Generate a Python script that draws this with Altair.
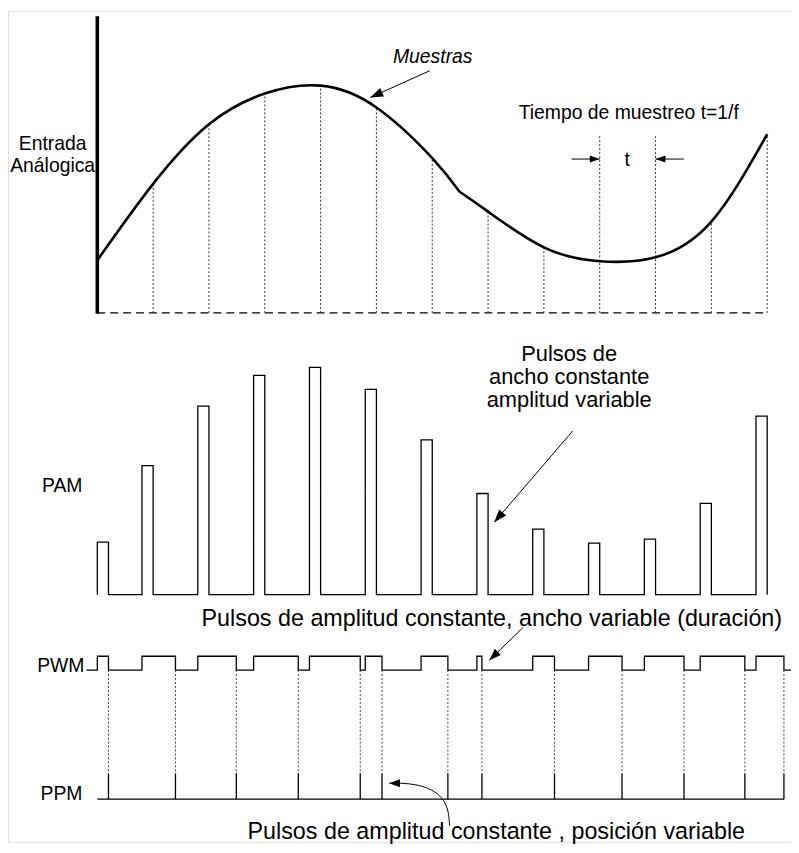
import altair as alt
import numpy as np
import pandas as pd

# ---------------- data ----------------
# sampling instants (in sample periods) and analog value at each of them
sample_t = list(range(13))
sample_v = [53, 130, 190, 221, 229, 207, 156, 102, 66, 52, 56, 92, 180]
# kink of the analog curve between samples 6 and 7
kink_t, kink_v = 6.49, 122
# pulse start instants (shared by PAM and PWM) and widths
pulse_start = [0, 0.8, 1.8, 2.8, 3.8, 4.8, 5.8, 6.8, 7.8, 8.8, 9.8, 10.8, 11.8]
pam_width = 0.2
pwm_width = [0.2, 0.6, 0.69, 0.8, 0.91, 0.3, 0.48, 0.09, 0.39, 0.6, 0.71, 0.8, 0.5]
pwm_lead, pwm_tail = -0.196, 12.4267
marker_pair = [9, 10]  # the two samples used for "t"

# ---------------- layout ----------------
W, H = 789, 837
X_DOM = [-1.6, 12.4267]
Y_DOM = [0, 837]
PX_PER_T = W / (X_DOM[1] - X_DOM[0])
ANA_BASE, AXIS_TOP, MARK_TOP = 533, 832, 713
PAM_BASE = 249
PWM_LO, PWM_HI = 173, 187
PPM_BASE, PPM_TOP = 43, 69
FONT = "Liberation Sans"
FS_SMALL, FS_MID, FS_BIG = 19.5, 22, 23.5

xs = alt.Scale(domain=X_DOM, nice=False, zero=False)
ys = alt.Scale(domain=Y_DOM, nice=False, zero=False)


def X(f):
    return alt.X(f, type="quantitative", scale=xs, axis=None)


def Y(f):
    return alt.Y(f, type="quantitative", scale=ys, axis=None)


def vrules(df, **kw):
    return alt.Chart(df).mark_rule(**kw).encode(X("t"), Y("y0"), y2="y1:Q")


def hrules(df, **kw):
    return alt.Chart(df).mark_rule(**kw).encode(X("t0"), x2="t1:Q", y=Y("y"))


def polyline(pts, **kw):
    df = pd.DataFrame(pts, columns=["t", "y"])
    df["o"] = range(len(df))
    return alt.Chart(df).mark_line(**kw).encode(X("t"), Y("y"), order="o:Q")


layers = []

# ---------- analog input ----------
seg1 = pd.DataFrame({"t": sample_t[:7] + [kink_t], "v": sample_v[:7] + [kink_v]})
seg2 = pd.DataFrame({"t": [kink_t] + sample_t[7:], "v": [kink_v] + sample_v[7:]})
layers.append(hrules(pd.DataFrame({"t0": [0], "t1": [12], "y": [ANA_BASE]}),
                     color="black", strokeWidth=1.5, strokeDash=[8, 5]))
layers.append(vrules(pd.DataFrame({"t": sample_t[1:], "y0": ANA_BASE,
                                   "y1": [ANA_BASE + v for v in sample_v[1:]]}),
                     color="#333", strokeWidth=1, strokeDash=[2, 2]))
layers.append(vrules(pd.DataFrame({"t": marker_pair,
                                   "y0": [ANA_BASE + sample_v[i] for i in marker_pair],
                                   "y1": MARK_TOP}),
                     color="#333", strokeWidth=1, strokeDash=[2, 2]))
for seg in (seg1, seg2):
    seg = seg.assign(y=ANA_BASE + seg["v"])
    layers.append(alt.Chart(seg).mark_line(interpolate="natural", color="black",
                                           strokeWidth=2.6, strokeJoin="round")
                  .encode(X("t"), Y("y")))
layers.append(vrules(pd.DataFrame({"t": [0], "y0": [ANA_BASE - 1], "y1": [AXIS_TOP]}),
                     color="black", strokeWidth=3.6))

# ---------- PAM ----------
pts = []
for s, a in zip(pulse_start, sample_v):
    e = s + pam_width
    pts += [(s, PAM_BASE), (s, PAM_BASE + a), (e, PAM_BASE + a), (e, PAM_BASE)]
layers.append(polyline(pts, color="black", strokeWidth=1.3))

# ---------- PWM ----------
ends = [s + w for s, w in zip(pulse_start, pwm_width)]
pts = [(pwm_lead, PWM_LO)]
for s, e in zip(pulse_start, ends):
    pts += [(s, PWM_LO), (s, PWM_HI), (e, PWM_HI), (e, PWM_LO)]
pts.append((pwm_tail, PWM_LO))
layers.append(polyline(pts, color="black", strokeWidth=1.3))

# ---------- PPM ----------
layers.append(vrules(pd.DataFrame({"t": ends, "y0": PWM_LO, "y1": PPM_TOP}),
                     color="#444", strokeWidth=1, strokeDash=[2, 2]))
layers.append(hrules(pd.DataFrame({"t0": [0], "t1": [ends[-1]], "y": [PPM_BASE]}),
                     color="black", strokeWidth=1.3))
layers.append(vrules(pd.DataFrame({"t": ends, "y0": PPM_BASE, "y1": PPM_TOP}),
                     color="black", strokeWidth=1.3))

# ---------- arrows ----------
arrows = [  # tail t, tail y, tip t, tip y, head length px
    (5.956, 777, 4.889, 750, 13),
    (8.498, 688, 9.0, 688, 10),
    (10.507, 688, 10.0, 688, 10),
    (8.516, 414, 7.111, 322, 13),
    (7.627, 216, 7.022, 183, 12),
]
curl_t = [6.311, 6.276, 6.169, 5.991, 5.742, 5.458, 5.227]
curl_y = [16, 32, 44, 52, 57, 59, 59]

for (t0, y0, t1, y1, _) in arrows:
    layers.append(polyline([(t0, y0), (t1, y1)], color="black", strokeWidth=1))
layers.append(alt.Chart(pd.DataFrame({"t": curl_t, "y": curl_y, "o": range(len(curl_t))}))
              .mark_line(interpolate="cardinal", color="black", strokeWidth=1)
              .encode(X("t"), Y("y"), order="o:Q"))

heads = []
for (t0, y0, t1, y1, L) in arrows:
    ang = np.degrees(np.arctan2((t1 - t0) * PX_PER_T, (y1 - y0))) % 360
    heads.append({"t": t1, "y": y1, "ang": float(ang), "s": (2 * L) ** 2})
heads.append({"t": curl_t[-1], "y": curl_y[-1], "ang": 270.0, "s": (2 * 11) ** 2})
heads = pd.DataFrame(heads)
layers.append(alt.Chart(heads).mark_point(shape="M0,0L-0.36,1L0.36,1Z", filled=True,
                                          color="black", opacity=1, strokeWidth=0)
              .encode(X("t"), Y("y"), angle=alt.Angle("ang:Q", scale=None),
                      size=alt.Size("s:Q", scale=None)))

# ---------- texts ----------
texts = [  # t, y, text, size, align, style
    (-0.8, 697, "Entrada", FS_SMALL, "center", "normal"),
    (-0.8, 675, "Análogica", FS_SMALL, "center", "normal"),
    (6.009, 785, "Muestras", FS_SMALL, "center", "italic"),
    (9.52, 728, "Tiempo de muestreo t=1/f", FS_SMALL, "center", "normal"),
    (9.493, 681, "t", FS_SMALL, "center", "normal"),
    (-0.267, 352, "PAM", FS_SMALL, "right", "normal"),
    (8.453, 485, "Pulsos de", FS_MID, "center", "normal"),
    (8.453, 461.5, "ancho constante", FS_MID, "center", "normal"),
    (8.453, 438, "amplitud variable", FS_MID, "center", "normal"),
    (7.067, 217, "Pulsos de amplitud constante, ancho variable (duración)", FS_BIG, "center", "normal"),
    (-0.231, 171, "PWM", FS_SMALL, "right", "normal"),
    (-0.267, 42, "PPM", FS_SMALL, "right", "normal"),
    (7.147, 3, "Pulsos de amplitud constante , posición variable", FS_BIG, "center", "normal"),
]
tdf = pd.DataFrame(texts, columns=["t", "y", "text", "size", "align", "style"])
for (al, st), g in tdf.groupby(["align", "style"]):
    layers.append(alt.Chart(g).mark_text(align=al, baseline="alphabetic", font=FONT,
                                         fontStyle=st, color="black")
                  .encode(X("t"), Y("y"), text="text:N",
                          size=alt.Size("size:Q", scale=None)))

chart = (alt.layer(*layers)
         .properties(width=W, height=H, padding=0,
                     autosize=alt.AutoSizeParams(type="none"))
         .configure_view(stroke=None)
         .configure(background="white"))

chart.save("out.html", embed_options={"renderer": "svg", "actions": False})
